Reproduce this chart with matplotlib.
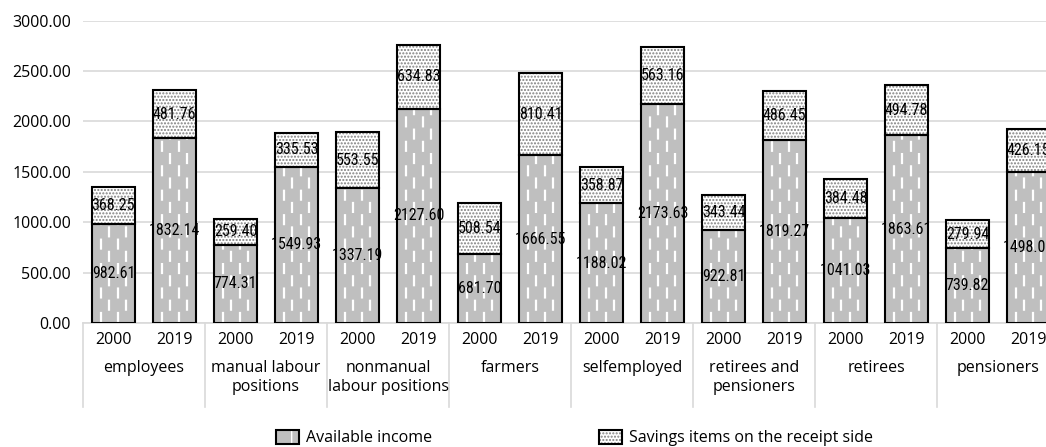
#!/usr/bin/env python

import matplotlib.pyplot as plt
import matplotlib.transforms as mtransforms
from matplotlib.patches import Patch
import numpy as np

# data
categories = ['employees', 'manual labour\npositions', 'nonmanual\nlabour positions', 'farmers',
              'selfemployed', 'retirees and\npensioners', 'retirees', 'pensioners']
years = ['2000', '2019']
income_2000 = [982.61, 774.31, 1337.19, 681.70, 1188.02, 922.81, 1041.03, 739.82]
income_2019 = [1832.14, 1549.93, 2127.60, 1666.55, 2173.63, 1819.27, 1863.61, 1498.01]
savings_2000 = [368.25, 259.40, 553.55, 508.54, 358.87, 343.44, 384.48, 279.94]
savings_2019 = [481.76, 335.53, 634.83, 810.41, 563.16, 486.45, 494.78, 426.15]

plt.rcParams['font.family'] = ['Open Sans', 'DejaVu Sans']
label_font = ['Liberation Sans Narrow', 'Roboto Condensed', 'DejaVu Sans']

income = np.ravel(np.column_stack([income_2000, income_2019]))
savings = np.ravel(np.column_stack([savings_2000, savings_2019]))
pos = np.arange(len(income))
w = 0.705
grey = '#bfbfbf'
light = '#d9d9d9'
fs = 11.5

fig = plt.figure(figsize=(10.46, 4.47), dpi=100)
ax = fig.add_axes([83 / 1046, 124 / 447, 976 / 1046, 302.4 / 447])  # runs past the right edge like the original

# available income: grey fill with white dashes
ax.bar(pos, income, w, color=grey, linewidth=0, zorder=2)
for k in range(4):
    xs = pos - w / 2 + w * (k + 1) / 5
    off = 0 if k % 2 == 0 else 5.5
    ax.vlines(xs, 0, income, colors='white', linewidth=1.6, linestyles=[(off, (5.0, 6.0))], zorder=3)
ax.bar(pos, income, w, fill=False, edgecolor='black', linewidth=1.5, zorder=4)

# savings items: dotted
ax.bar(pos, savings, w, bottom=income, color='white', edgecolor='#808080', hatch='.....', linewidth=0, zorder=2)
ax.bar(pos, savings, w, bottom=income, fill=False, edgecolor='black', linewidth=1.5, zorder=4)

for x, inc, sav in zip(pos, income, savings):
    ax.text(x, inc / 2, '%.2f' % inc, ha='center', va='center', fontsize=11.5, family=label_font,
            fontstretch='condensed', zorder=5)
    ax.text(x, inc + sav / 2, '%.2f' % sav, ha='center', va='center', fontsize=11.5, family=label_font,
            fontstretch='condensed', zorder=5)

ax.set_xlim(-0.5, len(pos) - 0.5)
ax.set_ylim(0, 3000)
ax.set_yticks(np.arange(0, 3001, 500))
ax.set_yticklabels(['%.2f' % v for v in np.arange(0, 3001, 500)], fontsize=fs)
ax.tick_params(axis='y', length=0, pad=8.5)
ax.set_xticks([])
ax.yaxis.grid(True, color=light, linewidth=1.2)
ax.set_axisbelow(True)
for s in ['left', 'right', 'top']:
    ax.spines[s].set_visible(False)
ax.spines['bottom'].set_color(light)
ax.spines['bottom'].set_linewidth(1.2)

# two level category axis
trans = mtransforms.blended_transform_factory(ax.transData, ax.transAxes)
for x in pos:
    ax.text(x, -0.056, years[x % 2], transform=trans, ha='center', va='center', fontsize=fs)
for i, c in enumerate(categories):
    ax.text(2 * i + 0.5, -0.122, c, transform=trans, ha='center', va='top', fontsize=fs, linespacing=1.25)
for b in np.arange(-0.5, len(pos), 2):
    ax.plot([b, b], [0, -0.278], transform=trans, color=light, linewidth=1.2, clip_on=False)

h1 = (Patch(facecolor=grey, edgecolor='white', hatch='|', linewidth=0),
      Patch(fill=False, edgecolor='black', linewidth=1.5))
h2 = (Patch(facecolor='white', edgecolor='#808080', hatch='.....', linewidth=0),
      Patch(fill=False, edgecolor='black', linewidth=1.5))
fig.legend([h1, h2], ['Available income', 'Savings items on the receipt side'],
           loc='center', bbox_to_anchor=(574.5 / 1046, 1 - 438 / 447), ncol=2, frameon=False,
           fontsize=fs, handlelength=1.45, handleheight=0.95, handletextpad=0.45, columnspacing=10.4)

fig.savefig('out.png', dpi=100)
plt.close(fig)
